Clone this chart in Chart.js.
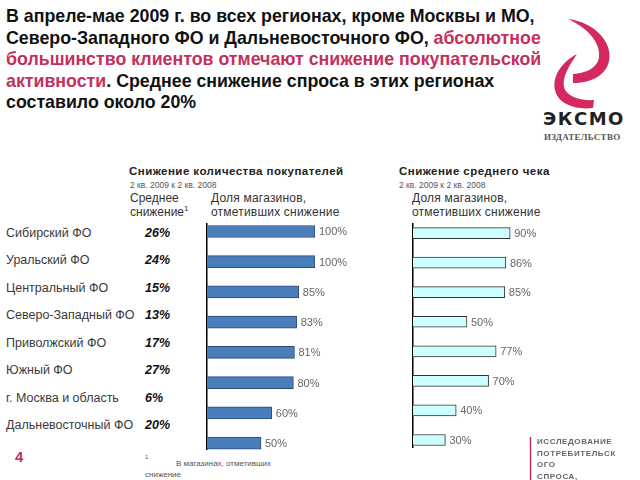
<!DOCTYPE html>
<html>
<head>
<meta charset="utf-8">
<script src="https://cdn.jsdelivr.net/npm/chart.js@4.4.1/dist/chart.umd.min.js"></script>
<style>
  html, body { margin:0; padding:0; background:#fff; }
  #page { position:relative; width:640px; height:480px; overflow:hidden; font-family:"Liberation Sans", Arial, sans-serif; }
  .t { position:absolute; white-space:nowrap; }
  #heading { position:absolute; left:6px; top:6px; font-weight:bold; font-size:17.8px; line-height:21.6px; color:#111; white-space:nowrap; }
  #heading .red { color:#c52f5b; }
  canvas { position:absolute; }
</style>
</head>
<body>
<div id="page">
  <div id="heading">В апреле-мае 2009 г. во всех регионах, кроме Москвы и МО,<br>Северо-Западного ФО и Дальневосточного ФО, <span class="red">абсолютное</span><br><span class="red">большинство клиентов отмечают снижение покупательской</span><br><span class="red">активности</span>. Среднее снижение спроса в этих регионах<br>составило около 20%</div>

  <svg style="position:absolute;left:0;top:0" width="640" height="480">
    <path d="M568 19 C594 22 613 42 609 61 C606 76 590 83 573 83 L573 74 C586 73 597 68 599 58 C601 43 588 28 568 19 Z" fill="#d4295f"/>
    <path d="M577 54 C562 62 552 76 555 90 C558 104 575 110 593 108 L594 100 C580 101 566 96 564 87 C562 77 569 66 577 54 Z" fill="#d4295f"/>
    <line x1="530.5" y1="437" x2="530.5" y2="480" stroke="#c52f5b" stroke-width="1.5"/>
  </svg>
  <div class="t" style="left:543px;top:108px;font-family:'DejaVu Sans',sans-serif;font-weight:bold;font-size:18px;letter-spacing:1.5px;color:#222;">ЭКСМО</div>
  <div class="t" style="left:544px;top:132px;font-family:'Liberation Serif',serif;font-weight:bold;font-size:9px;letter-spacing:0.3px;color:#555;">ИЗДАТЕЛЬСТВО</div>

  <div class="t" style="left:129px;top:165px;font-weight:bold;font-size:11.5px;letter-spacing:0.45px;color:#222;">Снижение количества покупателей</div>
  <div class="t" style="left:130px;top:180px;font-size:8.5px;color:#555;">2 кв. 2009 к 2 кв. 2008</div>
  <div class="t" style="left:130px;top:191px;font-size:12px;color:#333;">Среднее</div>
  <div class="t" style="left:130px;top:205px;font-size:12px;color:#333;">снижение<sup style="font-size:8px;vertical-align:5px;line-height:0">1</sup></div>
  <div class="t" style="left:211px;top:191px;font-size:12px;color:#333;letter-spacing:0.2px;">Доля магазинов,</div>
  <div class="t" style="left:211px;top:205px;font-size:12px;color:#333;letter-spacing:0.2px;">отметивших снижение</div>

  <div class="t" style="left:399px;top:165px;font-weight:bold;font-size:11.5px;letter-spacing:0.45px;color:#222;">Снижение среднего чека</div>
  <div class="t" style="left:399px;top:180px;font-size:8.5px;color:#555;">2 кв. 2009 к 2 кв. 2008</div>
  <div class="t" style="left:412px;top:191px;font-size:12px;color:#333;letter-spacing:0.2px;">Доля магазинов,</div>
  <div class="t" style="left:412px;top:205px;font-size:12px;color:#333;letter-spacing:0.2px;">отметивших снижение</div>

  <div id="rows"></div>

  <canvas id="c1" width="160" height="227" style="left:200px;top:223px;width:160px;height:227px;"></canvas>
  <canvas id="c2" width="160" height="225" style="left:406px;top:223px;width:160px;height:225px;"></canvas>

  <div class="t" style="left:15px;top:448px;font-weight:bold;font-size:15px;color:#c52f5b;">4</div>
  <div class="t" style="left:145px;top:454px;font-size:6px;color:#555;">1</div>
  <div class="t" style="left:176px;top:459px;font-size:8px;color:#555;">В магазинах, отметивших</div>
  <div class="t" style="left:145px;top:470px;font-size:8px;color:#555;">снижение</div>

  <div class="t" style="left:537px;top:436px;font-weight:bold;font-size:8px;line-height:11.5px;letter-spacing:0.6px;color:#666;">ИССЛЕДОВАНИЕ<br>ПОТРЕБИТЕЛЬСК<br>ОГО<br>СПРОСА,</div>
</div>

<script>
// ---- data ----
const regions = ["Сибирский ФО", "Уральский ФО", "Центральный ФО", "Северо-Западный ФО", "Приволжский ФО", "Южный ФО", "г. Москва и область", "Дальневосточный ФО"];
const avgDecline = ["26%", "24%", "15%", "13%", "17%", "27%", "6%", "20%"];
const shareBuyersDecline = [100, 100, 85, 83, 81, 80, 60, 50];
const shareCheckDecline = [90, 86, 85, 50, 77, 70, 40, 30];

// ---- region rows (text) ----
const rows = document.getElementById('rows');
regions.forEach((r, i) => {
  const top = 225 + i * 27.43;
  const a = document.createElement('div');
  a.className = 't';
  a.style.cssText = `left:6px;top:${top}px;font-size:12.5px;line-height:16px;color:#3a3a3a;`;
  a.textContent = r;
  rows.appendChild(a);
  const b = document.createElement('div');
  b.className = 't';
  b.style.cssText = `left:145px;top:${top}px;font-size:12.5px;line-height:16px;font-weight:bold;font-style:italic;color:#111;`;
  b.textContent = avgDecline[i];
  rows.appendChild(b);
});

// ---- value labels plugin ----
const valueLabels = {
  id: 'valueLabels',
  afterDatasetsDraw(chart) {
    const ctx = chart.ctx;
    const meta = chart.getDatasetMeta(0);
    ctx.save();
    ctx.font = '11px "Liberation Sans", Arial, sans-serif';
    ctx.fillStyle = '#666';
    ctx.textBaseline = 'middle';
    ctx.textAlign = 'left';
    meta.data.forEach((bar, i) => {
      const v = chart.data.datasets[0].data[i].x;
      ctx.fillText(v + '%', bar.x + 4, bar.y + 1);
    });
    ctx.restore();
  }
};

function makeChart(id, values, fill, border, thickness, yMin, yMax) {
  return new Chart(document.getElementById(id), {
    type: 'bar',
    data: {
      datasets: [{
        data: values.map((v, i) => ({ x: v, y: i })),
        backgroundColor: fill,
        borderColor: border,
        borderWidth: 1,
        barThickness: thickness
      }]
    },
    options: {
      indexAxis: 'y',
      responsive: false,
      maintainAspectRatio: false,
      animation: false,
      layout: { padding: { left: 0, right: 45, top: 0, bottom: 0 } },
      plugins: { legend: { display: false }, tooltip: { enabled: false } },
      scales: {
        x: { type: 'linear', min: 0, max: 100, display: false },
        y: {
          type: 'linear', min: yMin, max: yMax, reverse: true, offset: false,
          grid: { display: false },
          border: { display: true, color: '#000', width: 1.5 },
          ticks: { display: false },
          afterFit: s => { s.width = 7; }
        }
      }
    },
    plugins: [valueLabels]
  });
}

makeChart('c1', shareBuyersDecline, '#4a7ebb', '#2b4a72', 12, -0.28, 7.23);
makeChart('c2', shareCheckDecline, '#ccffff', '#333333', 11, -0.34, 7.27);
</script>
</body>
</html>
